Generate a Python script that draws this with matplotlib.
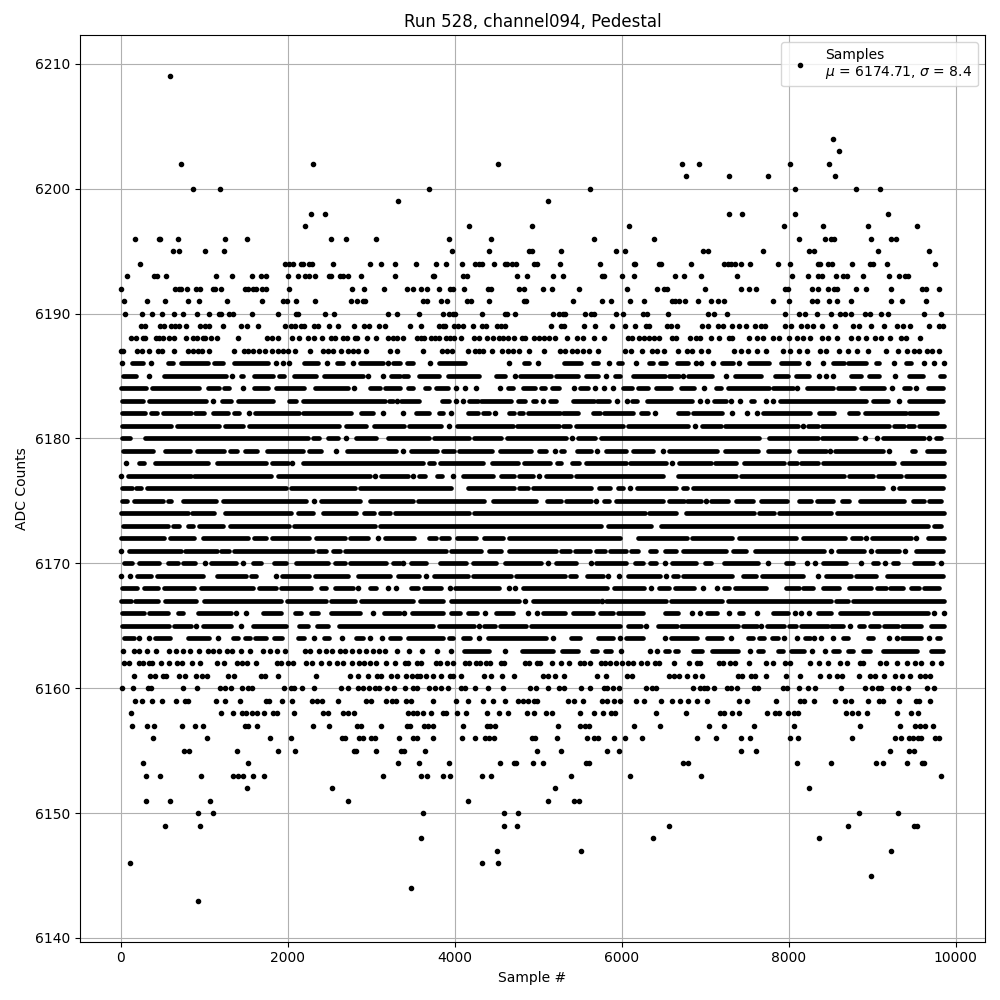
import matplotlib
matplotlib.use("Agg")
import matplotlib.pyplot as plt

# samples read per ADC level. a number is one dot, a tuple is a stretch of
# touching dots (first, last) where they can't be told apart in the picture
level_6209 = [584]
level_6204 = [8528]
level_6203 = [8600]
level_6202 = [716, 2300, 4516, 6724, 6932, 8012, 8480]
level_6201 = [6772, 7292, 7748, 8552]
level_6200 = [860, 1184, 3688, 5620, 8072, 8804, 9092]
level_6199 = [3320, 5116]
level_6198 = [2276, 2444, 7292, 7436, 8072, 9188]
level_6197 = [2204, 4168, 4924, 6088, 7940, 8408, 8948, 9536]
level_6196 = [176, 452, 468, 680, 1244, 1508, 2516, 2696, 3056, 3928, 4432, 5668, 6388, 8120, 8432, 8504, 8540, 8984, 9224, 9284]
level_6195 = [620, 692, 1004, 1232, 3964, 4408, 4888, 4924, 5272, 5932, 6040, 6980, 7040, 7688, 8240, 8300, 9068, 9680]
level_6194 = [224, 1964, 2012, 2060, 2156, 2188, 2252, 2292, 2540, 2984, 3116, 3284, 3532, 3772, 3892, 4084, 4240, 4288, 4328, 4468, 4600, 4624, 4684, 4732, 4948, 4984, 5260, 5740, 6148, 6160, 6448, 6472, 6836, 7232, 7280, 7316, 7364, 7424, 7532, 7868, 8012, 8348, 8372, 8468, 8516, 8756, 8972, 9008, 9176, 9752]
level_6193 = [80, 392, 428, 536, 1136, 1328, 1568, 1676, 1736, 2000, 2120, 2204, 2252, 2324, 2492, 2516, 2624, 2660, 2720, 2876, 3284, 3736, 3756, 4096, 4144, 4744, 4864, 5176, 5296, 5764, 5788, 6004, 6148, 6640, 6748, 6956, 7376, 8036, 8228, 8348, 8396, 8564, 8648, 8696, 8888, 9200, 9320, 9392, 9428]
level_6192 = [0, 644, 692, 720, 788, 896, 948, 1100, 1124, 1196, 1484, 1520, 1580, 1616, 1688, 1736, 2012, 2768, 2912, 3152, 3424, 3496, 3592, 3664, 3808, 3940, 3976, 4108, 4396, 4440, 4768, 4828, 5056, 5164, 5488, 6064, 6424, 6508, 6544, 7004, 7424, 7520, 7604, 7952, 7988, 8276, 8348, 8468, 8540, 8576, 8804, 8924, 9224, 9596, 9644, 9800]
level_6191 = [44, 308, 524, 800, 932, 1268, 1688, 1940, 1988, 2096, 2324, 2756, 2828, 2900, 2924, 3616, 3664, 3832, 3904, 4144, 4192, 4408, 4828, 4852, 5416, 5764, 5872, 6100, 6268, 6604, 6640, 6688, 6760, 6916, 7076, 7160, 7232, 7808, 8000, 8276, 8336, 8480, 8576, 8744, 9224, 9356, 9644]
level_6190 = [56, 248, 368, 488, 632, 740, 908, 1052, 1172, 1204, 1292, 1348, 1568, 1880, 2096, 2120, 2444, 2552, 3200, 3308, 3568, 3856, 3928, 3976, 4000, 4324, 4600, 4624, 4724, 5176, 5248, 5296, 5324, 5560, 5632, 5668, 5932, 6016, 6256, 6304, 6556, 7040, 7112, 7268, 7956, 8120, 8192, 8340, 8504, 8612, 8672, 8744, 8912, 8972, 9104, 9188, 9620, 9824]
level_6189 = [236, 284, 464, 512, 596, 644, 692, 776, 948, 1004, 1052, 1220, 1436, 1508, 1640, 1964, 2036, 2084, 2156, 2192, 2312, 2360, 2492, 2600, 2792, 2912, 2972, 3092, 3164, 3460, 3592, 3808, 3856, 3880, 3988, 4036, 4096, 4216, 4324, 4372, 4504, 4552, 4600, 5152, 5272, 5308, 5548, 5680, 5884, 6040, 6160, 6292, 6328, 6544, 6592, 6664, 6968, 7040, 7160, 7220, 7328, 7400, 7484, 7592, 7664, 7712, 7952, 8024, 8144, 8216, 8288, 8396, 8552, 8768, 8840, 8992, 9140, 9296, 9368, 9452, 9680, 9800, 9848]
level_6188 = [128, 188, 260, 284, 416, 452, 500, 572, 632, 776, 860, 908, 980, 1004, 1076, 1148, 1400, 1748, 1808, 1880, 2048, 2132, 2240, 2320, 2408, 2516, 2572, 2660, 2708, 2804, 2828, 2948, 3056, 3200, 3260, 3308, 3376, 3544, 3592, 3628, 3712, 3760, 3808, 3892, 3940, 3988, 4072, 4228, 4288, 4384, 4456, 4528, 4576, 4636, 4708, 4804, 4840, 4948, 5008, 5068, 5128, 5200, 5344, 5464, 5536, 5668, 5788, 6076, 6124, 6204, 6268, 6328, 6388, 6448, 6604, 6652, 6824, 6896, 6944, 7076, 7172, 7292, 7328, 7520, 7616, 7688, 7808, 7880, 8000, 8096, 8168, 8252, 8396, 8468, 8580, 8744, 8828, 8924, 9032, 9104, 9212, 9344, 9404, 9572]
level_6187 = [8, 32, 200, 248, 332, 440, 488, 632, 800, 860, 920, 968, 1052, 1352, 1472, 1520, 1580, 1652, 1724, 1808, 1880, 1940, 2000, 2084, 2264, 2420, 2480, 2540, 2636, 2720, 2780, 2840, 2936, 3224, 3308, 3616, 3844, 3904, 3964, 4156, 4240, 4288, 4336, 4444, 4564, 4636, 4696, 4768, 4888, 5068, 5260, 5320, 5404, 5464, 5536, 5608, 5716, 6040, 6112, 6240, 6364, 6424, 6508, 6676, 6784, 6848, 6956, 7040, 7352, 7424, 7508, 7616, 7724, 7928, 8012, 8120, 8216, 8372, 8444, 8600, 8708, 8816, 8948, 9164, 9308, 9416, 9500, 9560, 9656, 9716, 9800]

level_6186 = [20, (140, 260), 364, (560, 620), (720, 1040), (1120, 1220), (1352, 1760), 1860, 1940, 2012, (2200, 2360), 2468, (2588, 2660), 2780, (2860, 3140), 3200, (3260, 3340), (3424, 3496), 3700, (3816, 4128), 4648, (4828, 4888), 4996, (5308, 5516), (5656, 5716), 5848, (5956, 6004), 6176, (6328, 6376), (6456, 6536), (6664, 6796), 6896, 6948, 7100, (7208, 7336), 7400, (7528, 7768), (7908, 8120), 8228, 8416, (8528, 8668), (8708, 8928), (9048, 9088), 9260, (9408, 9468), 9620, 9740, 9860]
level_6185 = [(28, 188), 340, (520, 1260), 1328, (1436, 1460), (1600, 1820), (1900, 1960), (2080, 2340), (2440, 2900), 2960, 3140, (3240, 3340), (3376, 3436), (3576, 3808), (3916, 4288), (4496, 4600), 4720, (4784, 5156), (5216, 5476), (5568, 5716), 5816, (5916, 5984), (6136, 6516), (6568, 6688), 6736, (6800, 7088), 7248, (7360, 7668), (7840, 7988), (8088, 8240), 8360, 8448, 8528, (8748, 8868), (8960, 9088), 9272, (9448, 9608), (9808, 9860)]
level_6184 = [(0, 300), (372, 932), (1040, 1180), (1240, 1300), 1460, (1600, 1760), (1860, 2200), (2332, 2720), 2792, (2988, 3100), (3160, 3340), (3436, 3496), (3640, 3688), (3776, 3916), 4016, 4124, 4252, 4540, (4636, 4696), (4816, 4964), (5036, 5080), (5164, 5248), 5424, (5496, 5596), 5676, 5788, 5896, (6016, 6124), (6196, 6316), (6416, 6596), (6716, 6868), 6988, (7136, 7188), (7280, 7768), (7808, 8048), 8096, (8216, 8528), (8588, 8788), (8868, 9140), 9236, (9388, 9456), 9528, (9668, 9848)]
level_6183 = [(12, 260), (340, 1020), 1100, (1208, 1320), (1400, 1820), (2012, 2100), (2188, 3160), (3212, 3260), 3312, (3356, 3576), (3848, 3936), 4012, 4096, (4168, 4276), (4316, 4676), (4756, 4840), (4936, 4976), 5056, (5136, 5216), (5416, 5664), (5704, 5848), 5944, 6064, (6128, 6184), (6304, 6848), 6936, 7028, (7108, 7248), 7308, 7416, (7548, 7588), 7728, 7808, (7900, 8928), (9008, 9188), 9320, (9448, 9848)]
level_6182 = [(20, 292), (360, 428), (508, 840), (892, 1000), (1108, 1280), (1360, 1420), 1540, (1612, 2140), (2188, 2760), (2880, 3020), 3140, 3376, (3536, 3688), (3808, 3856), 3956, (4156, 4276), (4336, 4416), 4488, (4656, 4716), (4776, 4816), (4876, 5256), (5296, 5476), (5656, 5736), (5784, 6136), (6236, 6316), 6396, (6676, 6796), (6856, 7208), 7328, 7496, 7616, (7688, 8256), (8368, 8548), (8728, 8828), (8920, 9408), (9448, 9776)]
level_6181 = [(12, 600), (668, 1180), (1252, 1460), (1532, 2612), (2692, 2940), (3028, 3396), (3456, 3836), 3928, (4024, 4696), (4744, 5248), (5296, 5376), (5456, 6016), (6076, 6800), 6880, (6960, 7188), (7240, 8108), 8172, (8228, 8348), (8400, 9208), (9268, 9388), (9428, 9508), (9568, 9860)]
level_6180 = [(12, 108), (292, 2240), (2308, 2380), (2480, 2600), 2692, (2812, 3060), (3200, 3696), (3748, 4176), (4236, 4556), (4624, 5328), 5408, (5476, 5676), (5756, 7648), (7760, 8348), (8400, 8808), 8920, 9056, (9136, 9628), 9680, (9768, 9828)]
level_6179 = [(28, 380), (532, 828), (908, 1240), (1308, 1388), (1492, 1628), (1752, 2180), (2252, 2400), 2580, (2708, 3300), 3376, (3476, 3784), (3856, 3996), (4056, 4444), (4544, 4916), (5008, 5096), 5200, (5268, 5308), (5464, 5636), 5704, (5808, 6056), (6136, 6376), 6496, (6568, 7148), (7240, 7628), (7748, 8008), (8128, 8448), 8496, (8560, 9128), 9208, (9480, 9520), (9656, 9860)]
level_6178 = [60, (212, 280), (412, 1040), (1148, 1740), (1812, 2000), 2052, (2180, 3616), (3688, 3756), (3824, 4336), (4448, 4756), (4836, 5136), (5224, 5272), (5408, 5488), (5576, 6056), (6104, 6536), 6608, (6688, 7068), (7120, 7368), (7468, 7948), (8008, 8096), (8148, 8348), (8408, 9268), (9360, 9860)]
level_6177 = [8, (92, 840), (880, 1800), (1880, 2980), 3040, (3120, 3436), 3496, (3576, 3648), (3784, 3848), 3976, (4096, 4464), (4556, 4716), (4768, 4936), 5008, (5088, 5396), (5456, 6496), (6676, 7368), (7428, 8668), (8728, 9008), (9068, 9348), (9408, 9860)]
level_6176 = [(12, 140), (188, 240), (308, 1980), (2040, 2800), (2860, 3956), (4156, 4716), (4768, 4876), (4936, 5636), (5728, 5856), (5956, 6016), 6096, (6184, 6656), (6736, 6788), (6856, 9128), 9248, (9328, 9848)]
level_6175 = [(12, 80), (160, 500), (560, 600), (740, 1140), (1228, 2220), 2320, (2400, 2860), (2980, 3496), (3556, 4356), (4456, 4976), (5104, 5276), (5336, 5636), 5696, (5784, 5848), (5928, 6496), (6568, 6748), (6788, 6948), 7016, (7068, 7280), (7368, 7576), (7668, 7976), (8128, 8268), (8336, 8536), (8640, 8728), (8860, 9388), (9488, 9628), (9688, 9828)]
level_6174 = [(0, 800), (852, 1120), (1252, 2040), (2128, 2308), (2428, 2820), (2908, 3028), (3100, 3220), (3280, 4176), (4236, 6276), (6328, 6656), (6768, 7588), (7640, 7828), (7880, 8508), (8576, 9860)]
level_6173 = [(28, 560), (628, 692), (800, 868), (940, 1220), (1308, 2020), (2080, 3040), (3100, 5756), (5836, 6356), (6476, 9668), (9748, 9828)]
level_6172 = [(0, 520), (588, 880), (988, 1520), (1600, 1740), (1812, 2260), (2340, 2680), (2748, 2960), 3080, (3160, 3516), (3688, 3776), (3836, 3928), (4024, 4256), (4356, 4576), (4656, 5976), (6196, 6788), (6848, 7328), (7408, 8088), (8176, 8680), (8760, 8868), 8928, (9000, 9468), 9528, (9668, 9860)]
level_6171 = [0, (100, 720), (772, 1148), (1200, 1300), (1360, 2300), (2360, 2460), (2540, 2620), (2680, 3896), (3956, 4316), (4416, 4556), (4656, 5216), (5276, 5376), (5436, 5616), (5696, 5796), (5856, 6056), (6116, 6196), (6344, 6416), (6516, 6656), (6736, 7248), (7336, 7488), (7600, 8428), 8508, (8588, 8908), 8988, (9056, 9328), 9392, (9528, 9848)]
level_6170 = [(40, 140), (220, 452), (560, 680), (740, 892), 1012, (1080, 1380), 1460, (1580, 1680), (1840, 1980), (2100, 2480), (2572, 2680), (2740, 3180), (3260, 3340), 3376, (3476, 3656), (3824, 4136), (4224, 4496), (4600, 5036), 5116, (5208, 5456), 5636, (5688, 6056), (6156, 6256), (6336, 6408), 6516, (6608, 6888), (7000, 7068), (7228, 7628), 7748, (7968, 8056), 8220, 8320, (8408, 8688), 8868, (9008, 9068), 9152, (9248, 9308), (9508, 9728), 9828]
level_6169 = [0, 108, (200, 360), (428, 980), (1148, 1500), (1560, 1620), 1860, (1932, 2260), (2332, 2720), (2840, 3220), (3320, 3576), 3656, (3756, 4156), (4224, 4676), (4736, 5316), (5384, 5456), (5584, 5776), 5836, 5968, (6076, 6456), 6528, (6616, 6676), (6736, 7328), (7456, 7608), (7680, 8168), 8348, (8448, 8748), (8808, 9048), (9176, 9848)]
level_6168 = [(12, 200), (280, 440), (520, 880), (960, 1580), (1660, 1860), (1920, 2280), (2400, 2460), (2572, 2780), 2840, (2980, 3060), 3200, 3292, (3476, 3556), (3636, 3836), 3944, (4008, 4536), 4648, 4720, (4824, 5824), (5904, 6268), 6356, (6448, 6568), (6636, 6864), 6976, 7148, (7228, 7288), (7360, 7728), (7968, 8120), (8176, 8296), (8416, 8608), (8720, 8988), (9056, 9168), (9216, 9368), (9468, 9568), (9620, 9800)]
level_6167 = [(0, 120), (172, 440), (532, 900), (1000, 1920), (1988, 2460), (2520, 2800), (2880, 3496), (3584, 3856), (3956, 4776), 4848, (4936, 5728), 5768, (5816, 6536), (6596, 7208), (7280, 8508), (8568, 8708), (8768, 9860)]
level_6166 = [(12, 280), (332, 560), (680, 740), (920, 1320), 1380, 1500, (1700, 1920), (2092, 2160), (2280, 2360), (2520, 2860), 3020, (3152, 3340), 3396, (3488, 3856), (3956, 4064), (4156, 4264), 4368, (4496, 4696), 4876, 4984, (5056, 5316), (5416, 5656), (5736, 5896), (5956, 6256), (6516, 6676), 6848, 6936, (7028, 7148), 7288, (7408, 7448), 7616, (7808, 7988), 8076, 8152, 8240, (8348, 8508), (8620, 8948), (9028, 9668), 9740, 9860]
level_6165 = [(12, 580), (640, 840), 900, (988, 1320), 1440, (1588, 1980), (2140, 2240), (2348, 2480), (2612, 3736), (3808, 4236), 4288, (4356, 4488), (4544, 4856), (4916, 5976), (6076, 6236), 6296, (6436, 6664), (6716, 7388), (7456, 7616), 7668, (7736, 7948), (8008, 8088), (8152, 8468), (8508, 8648), 8736, (8840, 8908), (8976, 9088), (9148, 9308), (9360, 9588), (9708, 9860)]
level_6164 = [(40, 160), 212, 332, (412, 588), (800, 1052), 1160, (1348, 1400), (1492, 1548), (1612, 1740), (1840, 1932), (2120, 2200), 2312, (2440, 2500), 2648, (2812, 2900), 2980, 3132, (3220, 3340), (3436, 3856), (3936, 3976), (4096, 4184), 4288, (4396, 5096), 5176, (5396, 5496), (5716, 5896), 5976, (6056, 6256), 6516, (6596, 6908), (7028, 7208), 7308, (7508, 7568), (7648, 7708), (7800, 7868), 7940, 8096, (8200, 8256), 8308, 8388, 8528, (8648, 8708), (8948, 9016), 9200, 9296, (9360, 9588), 9680, (9776, 9816)]
level_6163 = [32, 164, 212, 308, 416, 572, 656, 740, 824, 932, 1040, 1100, 1172, 1268, 1328, 1436, 1544, 1700, 1784, 1868, 1964, 2204, 2264, 2372, 2456, 2528, 2620, 2684, 2768, 2852, 2936, 3020, 3092, 3164, 3308, 3456, 3608, 3784, 3956, (4116, 4416), 4608, (4804, 5176), (5288, 5476), (5648, 5704), (5796, 5876), 5992, 6344, 6424, (6516, 6568), (6636, 6676), (6856, 6968), (7080, 7388), 7532, (7628, 7688), (7868, 7928), (8028, 8188), 8276, 8432, (8536, 8600), (8708, 8768), (8888, 8976), (9128, 9536), (9708, 9848)]

level_6162 = [44, 104, 212, 260, 332, 368, 476, 572, 668, 728, 848, 944, 1148, 1232, 1388, 1448, 1508, 1616, 1868, 1916, 2000, 2060, 2216, 2288, 2396, 2492, 2588, 2660, 2768, 2852, 2912, 2988, 3060, 3176, 3284, 3400, 3436, 3544, 3592, 3772, 3820, 3904, 3976, 4120, 4168, 4252, 4300, 4372, 4420, 4552, 4588, 4840, 4888, 4984, 5020, 5164, 5272, 5368, 5500, 5548, 5620, 5752, 5800, 5860, 5932, 6004, 6076, 6136, 6232, 6304, 6400, 6448, 6628, 6812, 6908, 6944, 7172, 7220, 7304, 7364, 7520, 7724, 7808, 7952, 8012, 8252, 8360, 8468, 8612, 8696, 8852, 8888, 9092, 9164, 9296, 9416, 9512, 9584, 9716, 9824]
level_6161 = [164, 344, 404, 500, 536, 692, 764, 896, 968, 1028, 1280, 1352, 1676, 1724, 1880, 2336, 2744, 2840, 2960, 3068, 3116, 3236, 3308, 3412, 3484, 3544, 3580, 3652, 3736, 3832, 3940, 3976, 4072, 4348, 4432, 4564, 4708, 5056, 5116, 5200, 5308, 5704, 5812, 6064, 6124, 6568, 6628, 6688, 6788, 6884, 6968, 7388, 7436, 7544, 7592, 7724, 7964, 8132, 8372, 8480, 8576, 8636, 8840, 8972, 9032, 9140, 9272, 9356, 9452, 9572, 9632, 9692]
level_6160 = [20, 152, 320, 356, 740, 908, 1184, 1244, 1316, 1448, 1520, 1568, 1952, 2036, 2072, 2168, 2312, 2636, 2720, 2840, 2900, 2972, 3044, 3092, 3188, 3272, 3400, 3496, 3544, 3688, 3760, 3832, 3916, 4072, 4120, 4240, 4396, 4576, 4900, 4972, 5116, 5248, 5308, 5508, 5620, 5788, 5824, 5896, 5968, 6292, 6364, 6412, 6856, 6944, 6992, 7028, 7112, 7268, 7316, 7376, 7580, 7628, 7928, 7976, 8120, 8228, 8312, 8624, 8912, 8996, 9068, 9104, 9248, 9320, 9428, 9656, 9748]
level_6159 = [176, 248, 368, 488, 656, 764, 800, 1136, 1244, 1424, 1736, 1772, 1928, 2048, 2288, 2348, 2408, 2600, 2936, 2996, 3176, 3248, 3296, 3412, 3472, 3736, 4012, 4156, 4336, 4456, 4600, 4756, 4816, 4876, 4948, 4984, 5356, 5428, 5536, 5764, 5824, 5908, 5980, 6172, 6268, 6472, 6604, 6704, 6800, 6908, 7028, 7400, 7496, 7844, 8132, 8180, 8300, 8552, 8672, 8744, 8948, 9080, 9128, 9324, 9524, 9560, 9692]
level_6158 = [128, 1196, 1340, 1448, 1496, 1568, 1628, 1712, 1820, 1868, 2072, 2420, 2480, 2660, 2720, 2792, 3436, 3496, 3544, 3616, 3712, 3856, 3892, 4024, 4132, 4384, 4528, 4636, 4864, 4948, 5092, 5164, 5500, 5668, 5776, 5872, 5920, 6412, 6776, 7184, 7232, 7328, 7400, 7736, 7832, 7880, 7988, 8060, 8108, 8684, 8756, 8828, 8936, 9304, 9464, 9548]
level_6157 = [140, 308, 392, 728, 884, 980, 1484, 1520, 1628, 2300, 2492, 2828, 2876, 3116, 3424, 3460, 3628, 3676, 3736, 4096, 4384, 4420, 4480, 5236, 5500, 5560, 5608, 6148, 6460, 7052, 7232, 7580, 8060, 8852, 9332, 9512, 9572, 9632, 9728]
level_6156 = [380, 1028, 1784, 2036, 2648, 2684, 2852, 2900, 2996, 3044, 3332, 3496, 3544, 3736, 4084, 4240, 4360, 4408, 4468, 4924, 4960, 5224, 5584, 5668, 5716, 5908, 6040, 6244, 6908, 7136, 7424, 7532, 8012, 8108, 8756, 9272, 9344, 9440, 9488, 9548, 9584, 9752, 9800]
level_6155 = [752, 812, 1388, 1880, 2084, 2792, 2816, 3056, 3352, 3388, 3640, 4984, 5272, 5824, 5968, 7424, 7604, 9212, 9440, 9500]
level_6154 = [260, 1520, 3320, 3568, 3928, 4540, 4716, 4732, 4936, 5056, 5572, 5608, 6736, 6796, 8096, 8504, 9044, 9128, 9416, 9596, 9620]
level_6153 = [296, 464, 956, 1340, 1400, 1460, 1580, 1712, 3140, 3592, 3664, 3856, 3940, 4324, 4432, 5392, 6100, 6956, 9824]
level_6152 = [1508, 2528, 5200, 8240]
level_6151 = [296, 584, 1064, 2720, 4156, 5116, 5428, 5488]
level_6150 = [920, 1100, 3616, 4588, 4756, 8840, 9308]
level_6149 = [524, 944, 4588, 4744, 6568, 8708, 9500, 9536]
level_6148 = [3592, 6376, 8360]
level_6147 = [4504, 5512, 9224]
level_6146 = [116, 4324, 4516]
level_6145 = [8984]
level_6144 = [3472]
level_6143 = [920]

levels = [
    (6209, level_6209), (6204, level_6204), (6203, level_6203), (6202, level_6202),
    (6201, level_6201), (6200, level_6200), (6199, level_6199), (6198, level_6198),
    (6197, level_6197), (6196, level_6196), (6195, level_6195), (6194, level_6194),
    (6193, level_6193), (6192, level_6192), (6191, level_6191), (6190, level_6190),
    (6189, level_6189), (6188, level_6188), (6187, level_6187), (6186, level_6186),
    (6185, level_6185), (6184, level_6184), (6183, level_6183), (6182, level_6182),
    (6181, level_6181), (6180, level_6180), (6179, level_6179), (6178, level_6178),
    (6177, level_6177), (6176, level_6176), (6175, level_6175), (6174, level_6174),
    (6173, level_6173), (6172, level_6172), (6171, level_6171), (6170, level_6170),
    (6169, level_6169), (6168, level_6168), (6167, level_6167), (6166, level_6166),
    (6165, level_6165), (6164, level_6164), (6163, level_6163), (6162, level_6162),
    (6161, level_6161), (6160, level_6160), (6159, level_6159), (6158, level_6158),
    (6157, level_6157), (6156, level_6156), (6155, level_6155), (6154, level_6154),
    (6153, level_6153), (6152, level_6152), (6151, level_6151), (6150, level_6150),
    (6149, level_6149), (6148, level_6148), (6147, level_6147), (6146, level_6146),
    (6145, level_6145), (6144, level_6144), (6143, level_6143),
]

dot_x, dot_y = [], []
fig, ax = plt.subplots(figsize=(10, 10), dpi=100)
for adc, row in levels:
    for item in row:
        if isinstance(item, tuple):
            ax.plot(item, [adc, adc], color="k", lw=3.4, solid_capstyle="round")
        else:
            dot_x.append(item)
            dot_y.append(adc)
ax.plot(dot_x, dot_y, "k.", label="Samples\n$\\mu$ = 6174.71, $\\sigma$ = 8.4")

ax.set_title("Run 528, channel094, Pedestal")
ax.set_xlabel("Sample #")
ax.set_ylabel("ADC Counts")
ax.grid(True)
ax.legend(loc="upper right")
fig.tight_layout()
fig.subplots_adjust(top=0.965)
fig.savefig("out.png", dpi=100)
